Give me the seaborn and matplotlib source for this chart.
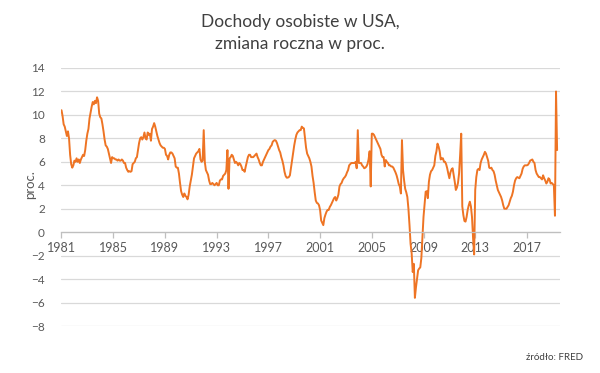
import numpy as np
import pandas as pd
import matplotlib.pyplot as plt
import seaborn as sns

# monthly year-over-year change of personal income, proc.
# one row = 12 months; labels on the axis go every 48 months
values = [
    10.4, 9.9, 9.2, 9.0, 8.6, 8.2, 8.6, 8.0, 6.6, 5.8, 5.5, 5.7,
    6.1, 6.0, 6.3, 6.0, 6.2, 5.9, 6.2, 6.4, 6.6, 6.5, 7.0, 7.8,
    8.4, 8.8, 9.7, 10.2, 10.7, 11.1, 10.9, 11.2, 11.0, 11.5, 11.2, 10.1,
    9.8, 9.7, 9.2, 8.6, 7.9, 7.4, 7.3, 7.1, 6.7, 6.3, 5.9, 6.4,
    6.3, 6.3, 6.2, 6.2, 6.1, 6.2, 6.1, 6.1, 6.2, 6.1, 5.9, 5.9,
    5.5, 5.3, 5.15, 5.2, 5.15, 5.2, 5.8, 5.9, 6.0, 6.3, 6.4, 7.0,
    7.6, 8.0, 8.1, 7.9, 8.1, 8.5, 8.0, 7.9, 8.5, 8.3, 8.4, 7.8,
    8.8, 9.0, 9.3, 9.0, 8.6, 8.2, 7.9, 7.6, 7.4, 7.3, 7.2, 7.2,
    7.1, 6.6, 6.5, 6.2, 6.6, 6.8, 6.8, 6.7, 6.5, 6.3, 5.6, 5.5,
    5.5, 5.0, 4.2, 3.5, 3.2, 3.0, 3.3, 3.1, 3.0, 2.8, 3.2, 3.9,
    4.4, 4.9, 5.6, 6.3, 6.5, 6.7, 6.8, 6.9, 7.1, 6.2, 6.0, 6.1,
    8.7, 6.0, 5.3, 5.1, 4.9, 4.4, 4.1, 4.1, 4.2, 4.1, 4.0, 4.1,
    4.2, 4.0, 4.0, 4.4, 4.5, 4.5, 4.8, 4.9, 5.0, 5.3, 7.0, 3.7,
    6.3, 6.4, 6.6, 6.5, 6.2, 5.9, 6.0, 5.9, 5.7, 5.9, 5.8, 5.6,
    5.3, 5.3, 5.15, 5.6, 6.0, 6.4, 6.6, 6.6, 6.4, 6.4, 6.4, 6.5,
    6.6, 6.7, 6.4, 6.2, 5.9, 5.7, 5.7, 6.0, 6.2, 6.4, 6.6, 6.8,
    7.0, 7.1, 7.3, 7.4, 7.7, 7.8, 7.85, 7.8, 7.6, 7.3, 7.0, 6.8,
    6.4, 6.1, 5.7, 5.15, 4.8, 4.65, 4.65, 4.7, 4.85, 5.5, 6.1, 6.8,
    7.4, 7.9, 8.3, 8.5, 8.6, 8.7, 8.7, 9.0, 8.9, 8.85, 8.0, 7.2,
    6.7, 6.5, 6.3, 6.0, 5.6, 4.8, 4.2, 3.4, 2.7, 2.5, 2.45, 2.3,
    1.9, 1.0, 0.8, 0.6, 1.2, 1.5, 1.75, 1.9, 1.9, 2.15, 2.3, 2.5,
    2.7, 2.9, 3.0, 2.7, 2.9, 3.2, 3.9, 4.1, 4.2, 4.45, 4.6, 4.7,
    4.85, 5.1, 5.3, 5.7, 5.8, 5.9, 5.9, 5.9, 5.9, 6.0, 5.45, 8.7,
    5.9, 5.9, 5.9, 5.7, 5.6, 5.45, 5.5, 5.6, 5.8, 6.2, 6.9, 3.9,
    8.4, 8.4, 8.3, 8.1, 7.9, 7.7, 7.5, 7.3, 7.1, 6.6, 6.4, 6.4,
    5.6, 6.15, 6.0, 5.9, 5.7, 5.7, 5.6, 5.6, 5.5, 5.3, 5.1, 4.85,
    4.5, 4.1, 3.9, 3.3, 7.85, 5.3, 4.4, 3.7, 3.4, 3.0, 2.0, 0.6,
    -1.0, -1.8, -3.4, -2.7, -5.6, -4.7, -4.0, -3.25, -3.1, -3.0, -2.2, -0.5,
    1.3, 2.4, 3.45, 3.5, 2.9, 4.3, 4.9, 5.2, 5.3, 5.5, 5.7, 6.5,
    6.9, 7.55, 7.3, 6.9, 6.2, 6.3, 6.3, 6.0, 6.0, 5.8, 5.45, 5.0,
    4.6, 5.1, 5.35, 5.45, 4.9, 4.3, 3.6, 3.8, 4.2, 5.0, 6.6, 8.4,
    2.2, 1.45, 0.95, 0.9, 1.3, 1.9, 2.3, 2.6, 2.2, 1.3, -0.5, -1.9,
    3.6, 4.7, 5.3, 5.4, 5.3, 5.9, 6.2, 6.4, 6.6, 6.85, 6.7, 6.4,
    6.1, 5.5, 5.45, 5.5, 5.3, 5.2, 4.9, 4.4, 4.0, 3.6, 3.4, 3.2,
    3.0, 2.7, 2.3, 2.0, 2.0, 2.0, 2.15, 2.3, 2.6, 2.9, 3.1, 3.45,
    4.0, 4.4, 4.6, 4.7, 4.65, 4.6, 4.8, 5.0, 5.4, 5.6, 5.7, 5.7,
    5.7, 5.75, 5.9, 6.1, 6.15, 6.2, 6.0, 5.9, 5.3, 5.0, 4.85, 4.7,
    4.7, 4.6, 4.5, 4.85, 4.6, 4.4, 4.15, 4.3, 4.6, 4.5, 4.15, 4.2,
    4.1, 4.0, 1.4, 12.0, 7.0,
]
tick_labels = ['1981', '1985', '1989', '1993', '1997', '2001', '2005', '2009', '2013', '2017']
tick_step = 48

df = pd.DataFrame({'miesiac': np.arange(len(values)), 'zmiana': values})

sns.set_theme(style='white')
plt.rcParams['font.family'] = ['Lato', 'DejaVu Sans']

fig = plt.figure(figsize=(6, 3.73), dpi=100)
ax = fig.add_axes([0.1025, 0.126, 0.8305, 0.6917])
sns.lineplot(data=df, x='miesiac', y='zmiana', color='#EE7424', linewidth=1.4, ax=ax)

ax.set_xlim(0, 462.5)
ax.set_ylim(-8, 14)
ax.set_yticks(range(-8, 15, 2))
ax.yaxis.grid(True, color='#D9D9D9', linewidth=0.9)
ax.set_axisbelow(True)
for s in ['top', 'right', 'left']:
    ax.spines[s].set_visible(False)
ax.spines['bottom'].set_position(('data', 0))
ax.spines['bottom'].set_color('#BFBFBF')
ax.spines['bottom'].set_linewidth(0.9)

ax.set_xticks(np.arange(len(tick_labels)) * tick_step)
ax.set_xticklabels(tick_labels)
ax.tick_params(axis='x', direction='out', length=4, width=0.9, color='#BFBFBF',
               labelsize=9, labelcolor='#595959', pad=3, bottom=True)
ax.tick_params(axis='y', length=0, labelsize=8.5, labelcolor='#595959', pad=12)
ax.set_xlabel('')
ax.set_ylabel('')

fig.text(30 / 600, 1 - 185 / 373, 'proc.', rotation=90, ha='center', va='center',
         fontsize=9.5, color='#595959')
fig.text(0.5, 1 - 33 / 373, 'Dochody osobiste w USA,\nzmiana roczna w proc.',
         ha='center', va='center', fontsize=12.5, color='#404040', linespacing=1.5)
fig.text(583 / 600, 1 - 357 / 373, 'źródło: FRED', ha='right', va='center',
         fontsize=7, color='#404040')

fig.savefig('out.png', dpi=100)
